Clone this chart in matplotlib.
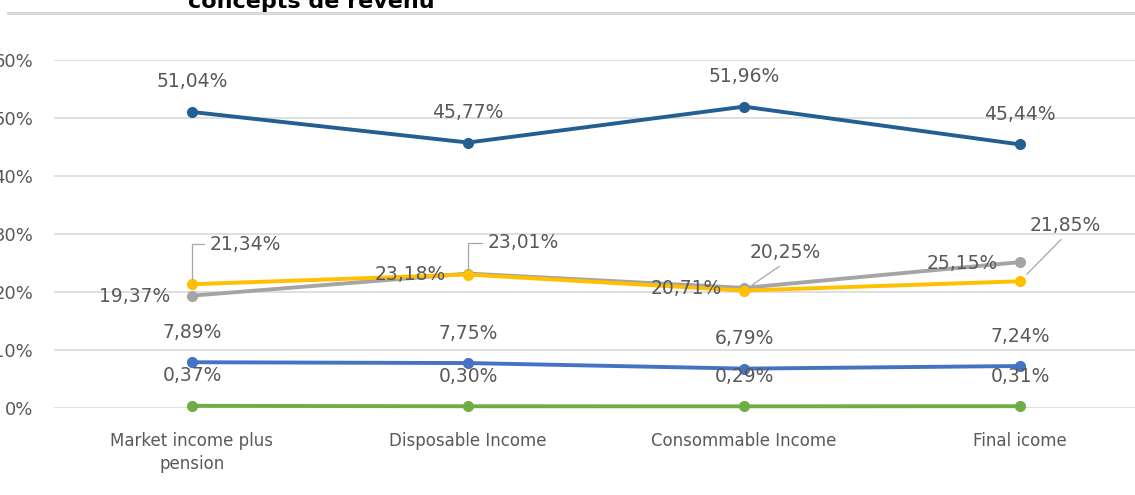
import matplotlib.pyplot as plt
from matplotlib.lines import Line2D

categories = ['Market income plus\npension', 'Disposable Income',
              'Consommable Income', 'Final icome']

# shares in %, one list per series
dark_blue_vals = [51.04, 45.77, 51.96, 45.44]
gray_vals = [19.37, 23.18, 20.71, 25.15]
yellow_vals = [21.34, 23.01, 20.25, 21.85]
blue_vals = [7.89, 7.75, 6.79, 7.24]
green_vals = [0.37, 0.30, 0.29, 0.31]

y_ticks = [0, 10, 20, 30, 40, 50, 60]


def fmt(v):
    return '{:.2f}%'.format(v).replace('.', ',')


W, H = 1135, 495
fig = plt.figure(figsize=(W / 100, H / 100), dpi=100)
ax = fig.add_axes([54 / W, (H - 408) / H, 1104 / W, 348 / H])

lbl_color = '#595959'
grid_color = '#D9D9D9'
x = list(range(len(categories)))

ax.plot(x, dark_blue_vals, color='#255E91', lw=2.8, marker='o', ms=7, zorder=3)
ax.plot(x, gray_vals, color='#A5A5A5', lw=2.8, marker='o', ms=7, zorder=3)
ax.plot(x, yellow_vals, color='#FFC000', lw=2.8, marker='o', ms=7, zorder=4)
ax.plot(x, blue_vals, color='#4472C4', lw=2.8, marker='o', ms=7, zorder=3)
ax.plot(x, green_vals, color='#70AD47', lw=2.8, marker='o', ms=7, zorder=3)

lbl_kw = dict(textcoords='offset pixels', fontsize=13.5, color=lbl_color, zorder=6)

# labels above the points
for vals in (dark_blue_vals, blue_vals, green_vals):
    for i, v in enumerate(vals):
        ax.annotate(fmt(v), (i, v), xytext=(0, 30), ha='center', va='center', **lbl_kw)

# gray series: labels on the left
for i, v in enumerate(gray_vals):
    ax.annotate(fmt(v), (i, v), xytext=(-22, -1), ha='right', va='center', **lbl_kw)

# yellow series: labels moved out with leader lines
leader = dict(arrowstyle='-', color='#A6A6A6', lw=0.9, shrinkA=2, shrinkB=4)
elbow = dict(leader, relpos=(0, 0.5), connectionstyle='angle,angleA=0,angleB=90,rad=0')
slant = dict(leader, relpos=(0.5, 0), shrinkB=7)
yellow_offsets = [(18, 40), (20, 32), (6, 38), (10, 56)]
yellow_arrows = [elbow, elbow, slant, slant]
for i, v in enumerate(yellow_vals):
    ax.annotate(fmt(v), (i, v), xytext=yellow_offsets[i], ha='left', va='center',
                arrowprops=yellow_arrows[i], **lbl_kw)

ax.set_xlim(-0.5, len(categories) - 0.5)
ax.set_ylim(0, 60)
ax.set_yticks(y_ticks)
ax.set_yticklabels(['{}%'.format(t) for t in y_ticks], fontsize=13)
ax.set_xticks(x)
ax.set_xticklabels(categories, linespacing=1.35, fontsize=12)
ax.tick_params(axis='both', length=0, labelcolor=lbl_color)
ax.tick_params(axis='y', pad=15)
ax.tick_params(axis='x', pad=17)
ax.grid(axis='y', color=grid_color, lw=1.2)
ax.set_axisbelow(True)
for s in ax.spines.values():
    s.set_visible(False)

for line in ax.lines:
    line.set_clip_on(False)

# second title line and the rule under it
fig.text(311 / W, 1 - 8 / H, 'concepts de revenu', ha='center', va='baseline',
         fontsize=16, fontweight='bold', color='black')
fig.add_artist(Line2D([8 / W, 1], [1 - 13 / H, 1 - 13 / H], color=grid_color, lw=2.2,
                      transform=fig.transFigure))

fig.savefig('out.png', dpi=100)
